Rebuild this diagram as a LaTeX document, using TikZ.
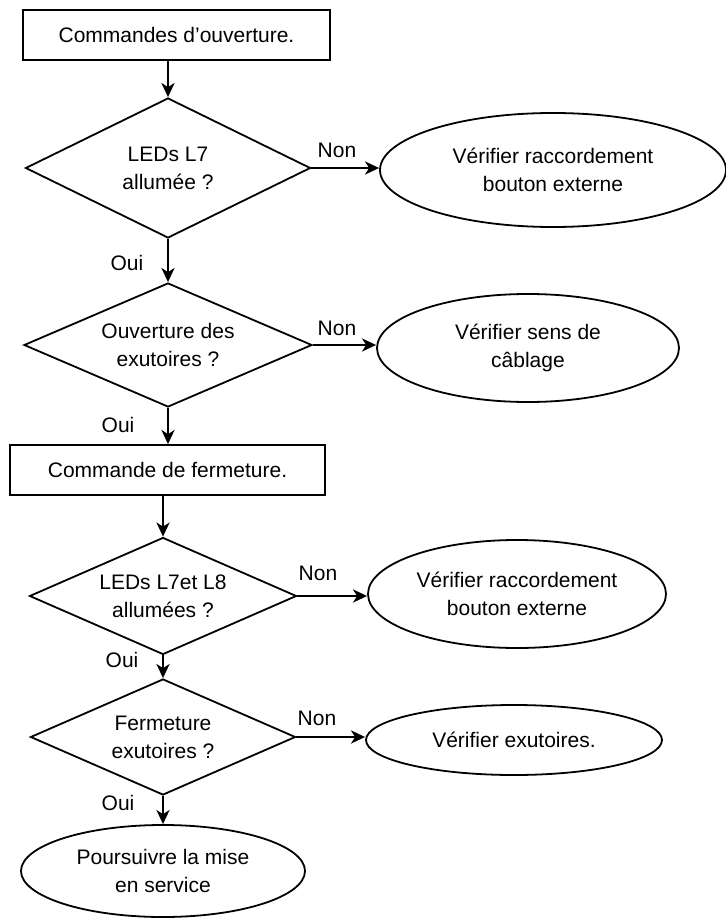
\documentclass[tikz,border=0pt]{standalone}
\usepackage{fontspec}
\setmainfont{Liberation Sans}
\usetikzlibrary{shapes.geometric,arrows.meta}
\begin{document}
\begin{tikzpicture}[x=1pt,y=-1pt,
  every node/.style={font=\fontsize{21}{28}\selectfont, align=center},
  box/.style={draw, line width=1.8pt, rectangle, inner sep=0pt},
  dia/.style={draw, line width=1.8pt, diamond, shape aspect=2, inner sep=0pt},
  ell/.style={draw, line width=1.8pt, ellipse, inner sep=0pt},
  arr/.style={line width=2.6pt, -{Stealth[length=14pt,width=13pt,inset=4pt]}},
  lbl/.style={inner sep=0pt}]
\useasboundingbox (0,0) rectangle (725,920);
\node[box, minimum width=307pt, minimum height=50pt] (c1) at (176.5,35) {Commandes d’ouverture.};
\node[dia, minimum width=285pt, minimum height=140pt] (d1) at (168,168) {LEDs L7\\allumée ?};
\node[ell, minimum width=346pt, minimum height=114pt] (e1) at (553,170) {Vérifier raccordement\\bouton externe};
\node[dia, minimum width=288pt, minimum height=124pt] (d2) at (168,345) {Ouverture des\\exutoires ?};
\node[ell, minimum width=302pt, minimum height=108pt] (e2) at (528,348) {Vérifier sens de\\câblage};
\node[box, minimum width=315pt, minimum height=50pt] (c2) at (167.5,470) {Commande de fermeture.};
\node[dia, minimum width=267pt, minimum height=117pt] (d3) at (163,596) {LEDs L7et L8\\allumées ?};
\node[ell, minimum width=298pt, minimum height=108pt] (e3) at (517,594) {Vérifier raccordement\\bouton externe};
\node[dia, minimum width=265pt, minimum height=116pt] (d4) at (163,737) {Fermeture\\exutoires ?};
\node[ell, minimum width=296pt, minimum height=70pt] (e4) at (514,740) {Vérifier exutoires.};
\node[ell, minimum width=284pt, minimum height=92pt] (e5) at (163,871) {Poursuivre la mise\\en service};

\node[lbl] (n1) at (337,150) {Non};
\node[lbl] (o1) at (127,263) {Oui};
\node[lbl] (n2) at (337,328) {Non};
\node[lbl] (o2) at (118,425) {Oui};
\node[lbl] (n3) at (318,573) {Non};
\node[lbl] (o3) at (122,660) {Oui};
\node[lbl] (n4) at (317,718) {Non};
\node[lbl] (o4) at (118,803) {Oui};

\draw[arr] (d1.north |- c1.south) -- (d1.north);
\draw[arr] (d1.south) -- (d2.north);
\draw[arr] (d2.south) -- (d2.south |- c2.north);
\draw[arr] (d3.north |- c2.south) -- (d3.north);
\draw[arr] (d3.south) -- (d4.north);
\draw[arr] (d4.south) -- (e5.north);
\draw[arr] (d1.east) -- (d1.east -| e1.west);
\draw[arr] (d2.east) -- (d2.east -| e2.west);
\draw[arr] (d3.east) -- (d3.east -| e3.west);
\draw[arr] (d4.east) -- (d4.east -| e4.west);
\end{tikzpicture}
\end{document}
